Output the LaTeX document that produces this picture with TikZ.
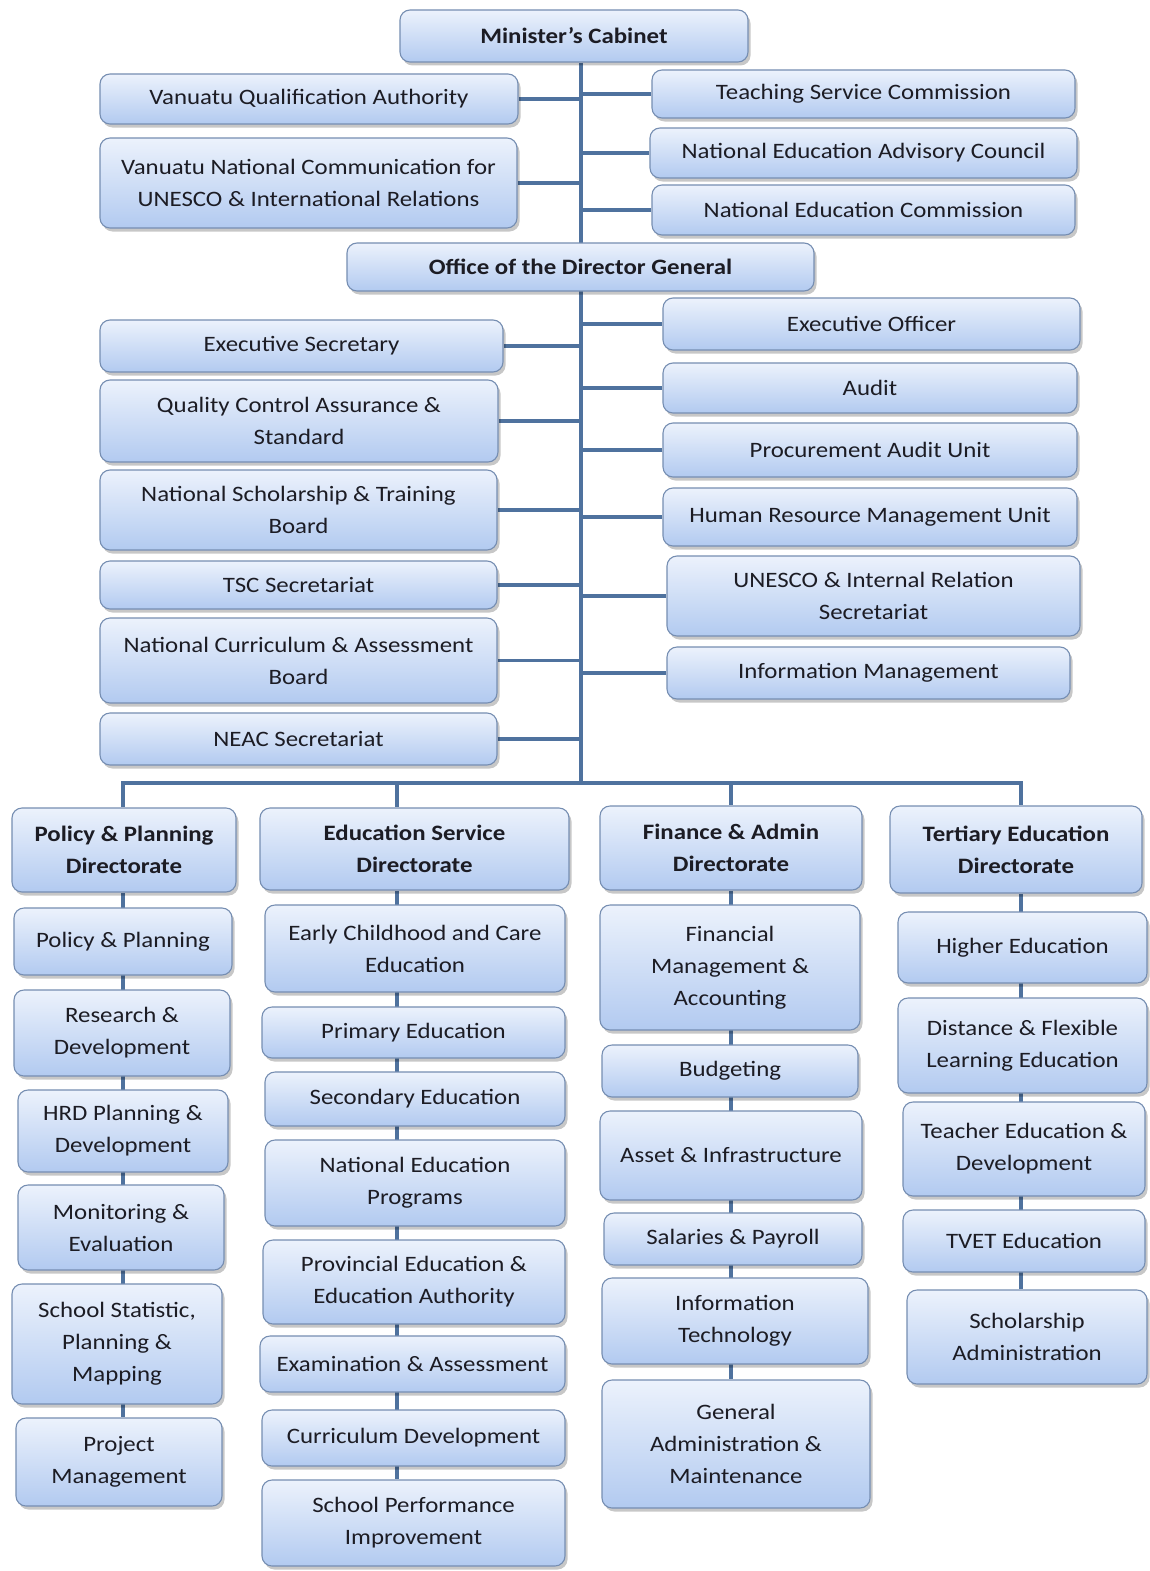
\documentclass[tikz,border=0pt]{standalone}
\usepackage{fontspec}
\setmainfont{Carlito}[FakeStretch=1.13]
\usetikzlibrary{shadows,backgrounds}
\definecolor{linec}{RGB}{79,114,158}
\definecolor{boxtop}{RGB}{236,242,252}
\definecolor{boxbot}{RGB}{178,202,240}
\definecolor{boxedge}{RGB}{118,142,178}
\definecolor{txt}{RGB}{28,28,36}
\pgfdeclarelayer{bg}
\pgfdeclarelayer{lines}
\pgfsetlayers{bg,lines,main}
\tikzset{
  box/.style={draw=boxedge, line width=1.1pt, rounded corners=10pt,
    top color=boxtop, bottom color=boxbot, inner sep=0pt, align=center,
    text=txt, font=\fontsize{22}{32}\selectfont,
    drop shadow={shadow xshift=2.5pt, shadow yshift=-3.5pt, fill=black, opacity=0.22}},
  hd/.style={font=\fontsize{22}{32}\selectfont\bfseries},
  conn/.style={draw=linec, line width=3.2pt}
}
\newcommand\orgbox[7][]{%
  \node[box,#1,minimum width={(#5-#3)*1pt},minimum height={(#6-#4)*1pt}] (#2) at ({(#3+#5)/2},{(#4+#6)/2}) {#7};}
\begin{document}
\begin{tikzpicture}[x=1pt,y=-1pt]
\begin{pgfonlayer}{bg}
\fill[white] (0,0) rectangle (1150,1571);
\end{pgfonlayer}
\useasboundingbox (0,0) rectangle (1150,1571);
% top
\orgbox[hd]{mc}{400}{10}{748}{62}{Minister’s Cabinet}
\orgbox{vqa}{100}{74}{518}{124}{Vanuatu Qualification Authority}
\orgbox{vnc}{100}{138}{517}{228}{Vanuatu National Communication for\\UNESCO \& International Relations}
\orgbox{tsc}{652}{70}{1075}{118}{Teaching Service Commission}
\orgbox{neac}{650}{128}{1077}{178}{National Education Advisory Council}
\orgbox{nec}{652}{185}{1075}{235}{National Education Commission}
\orgbox[hd]{odg}{347}{243}{814}{291}{Office of the Director General}
% middle left
\orgbox{es}{100}{320}{503}{372}{Executive Secretary}
\orgbox{qca}{100}{380}{498}{462}{Quality Control Assurance \&\\Standard}
\orgbox{nstb}{100}{470}{497}{550}{National Scholarship \& Training\\Board}
\orgbox{tscs}{100}{561}{497}{609}{TSC Secretariat}
\orgbox{ncab}{100}{618}{497}{703}{National Curriculum \& Assessment\\Board}
\orgbox{neacs}{100}{713}{497}{765}{NEAC Secretariat}
% middle right
\orgbox{eo}{663}{298}{1080}{350}{Executive Officer}
\orgbox{aud}{663}{363}{1077}{413}{Audit}
\orgbox{pau}{663}{423}{1077}{477}{Procurement Audit Unit}
\orgbox{hrm}{663}{488}{1077}{546}{Human Resource Management Unit}
\orgbox{uir}{667}{556}{1080}{636}{UNESCO \& Internal Relation\\Secretariat}
\orgbox{im}{667}{647}{1070}{699}{Information Management}
% directorates
\orgbox[hd]{ppd}{12}{808}{236}{892}{Policy \& Planning\\Directorate}
\orgbox[hd]{esd}{260}{808}{569}{890}{Education Service\\Directorate}
\orgbox[hd]{fad}{600}{806}{862}{890}{Finance \& Admin\\Directorate}
\orgbox[hd]{ted}{890}{806}{1142}{893}{Tertiary Education\\Directorate}
% column 1
\orgbox{c1a}{14}{908}{232}{975}{Policy \& Planning}
\orgbox{c1b}{14}{990}{230}{1076}{Research \&\\Development}
\orgbox{c1c}{18}{1090}{228}{1172}{HRD Planning \&\\Development}
\orgbox{c1d}{18}{1185}{224}{1270}{Monitoring \&\\Evaluation}
\orgbox{c1e}{12}{1284}{222}{1404}{School Statistic,\\Planning \&\\Mapping}
\orgbox{c1f}{16}{1418}{222}{1506}{Project\\Management}
% column 2
\orgbox{c2a}{265}{905}{565}{992}{Early Childhood and Care\\Education}
\orgbox{c2b}{262}{1007}{565}{1058}{Primary Education}
\orgbox{c2c}{265}{1072}{565}{1126}{Secondary Education}
\orgbox{c2d}{265}{1140}{565}{1226}{National Education\\Programs}
\orgbox{c2e}{263}{1240}{565}{1324}{Provincial Education \&\\Education Authority}
\orgbox{c2f}{260}{1336}{565}{1392}{Examination \& Assessment}
\orgbox{c2g}{262}{1410}{565}{1466}{Curriculum Development}
\orgbox{c2h}{262}{1480}{565}{1566}{School Performance\\Improvement}
% column 3
\orgbox{c3a}{600}{905}{860}{1030}{Financial\\Management \&\\Accounting}
\orgbox{c3b}{602}{1045}{858}{1097}{Budgeting}
\orgbox{c3c}{600}{1111}{862}{1200}{Asset \& Infrastructure}
\orgbox{c3d}{604}{1213}{862}{1265}{Salaries \& Payroll}
\orgbox{c3e}{602}{1278}{868}{1364}{Information\\Technology}
\orgbox{c3f}{602}{1380}{870}{1508}{General\\Administration \&\\Maintenance}
% column 4
\orgbox{c4a}{898}{912}{1147}{983}{Higher Education}
\orgbox{c4b}{898}{998}{1147}{1093}{Distance \& Flexible\\Learning Education}
\orgbox{c4c}{903}{1102}{1145}{1196}{Teacher Education \&\\Development}
\orgbox{c4d}{903}{1210}{1145}{1272}{TVET Education}
\orgbox{c4e}{907}{1290}{1147}{1384}{Scholarship\\Administration}
% coordinates for connector lines
\coordinate (tTop) at (581,62);
\coordinate (tBot) at (581,783);
\coordinate (k1) at (123,0);
\coordinate (k2) at (397,0);
\coordinate (k3) at (731,0);
\coordinate (k4) at (1021,0);
\begin{pgfonlayer}{lines}
\draw[conn] (tTop |- mc.south) -- (tBot);
\foreach \n in {vqa,vnc,es,qca,nstb,tscs,ncab,neacs}
  \draw[conn] (\n.east) -- (\n.east -| tTop);
\foreach \n in {tsc,neac,nec,eo,aud,pau,hrm,uir,im}
  \draw[conn] (\n.west) -- (\n.west -| tTop);
\draw[conn] (k1 |- ppd.north) -- (k1 |- tBot) -- (k4 |- tBot) -- (k4 |- ted.north);
\draw[conn] (k2 |- tBot) -- (k2 |- esd.north);
\draw[conn] (k3 |- tBot) -- (k3 |- fad.north);
\draw[conn] (k1 |- ppd.south) -- (k1 |- c1f.north);
\draw[conn] (k2 |- esd.south) -- (k2 |- c2h.north);
\draw[conn] (k3 |- fad.south) -- (k3 |- c3f.north);
\draw[conn] (k4 |- ted.south) -- (k4 |- c4e.north);
\end{pgfonlayer}
\end{tikzpicture}
\end{document}
